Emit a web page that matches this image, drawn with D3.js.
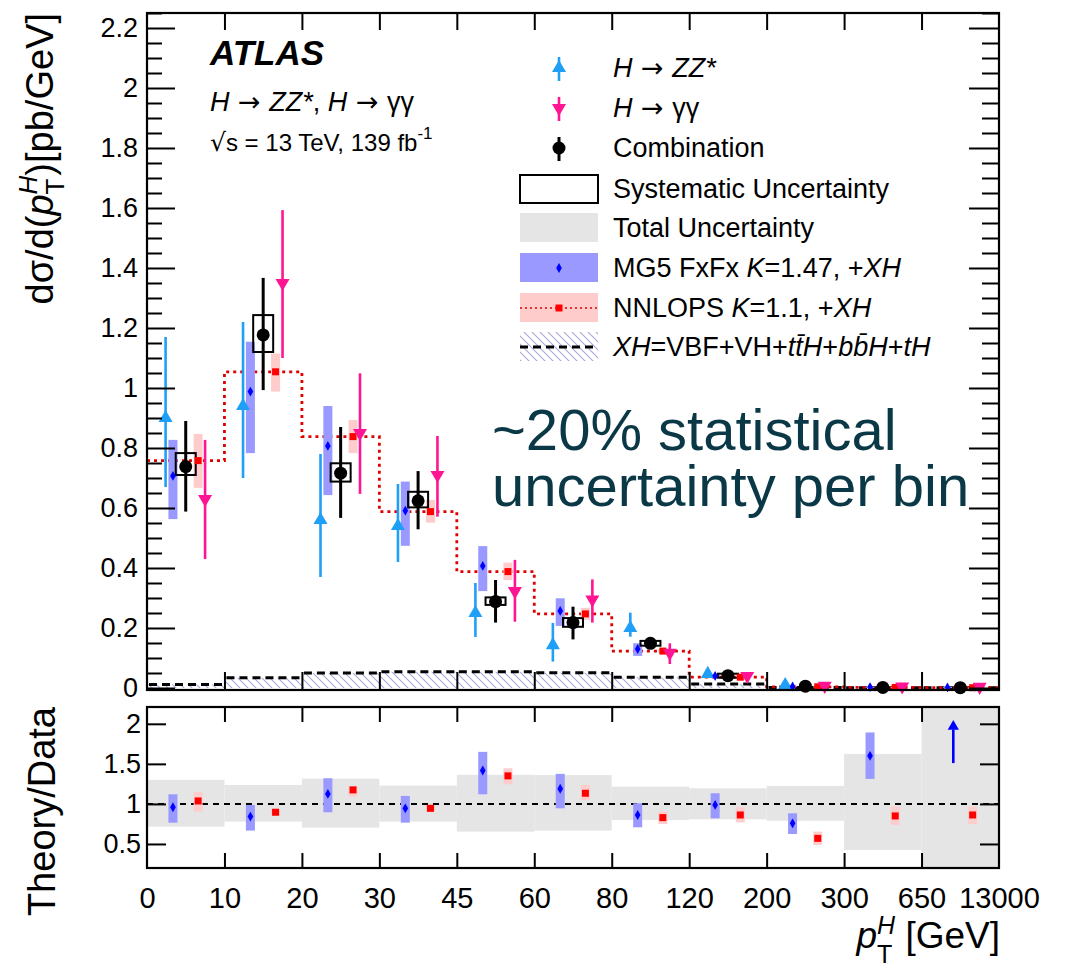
<!DOCTYPE html>
<html>
<head>
<meta charset="utf-8">
<script src="https://cdn.jsdelivr.net/npm/d3@7"></script>
<style>
  body { margin: 0; background: #fff; }
  text { font-family: "Liberation Sans", Arial, Helvetica, sans-serif; white-space: pre; }
</style>
</head>
<body>
<svg id="chart" width="1066" height="970"></svg>
<script>
// bin edges of pT(H) [GeV], 11 bins drawn with equal width
var binEdges = ["0", "10", "20", "30", "45", "60", "80", "120", "200", "300", "650", "13000"];

// H -> ZZ* (no point in the last two bins)
var zzVal = [0.90, 0.94, 0.56, 0.54, 0.25, 0.143, 0.200, 0.047, 0.010];
var zzLo  = [0.67, 0.70, 0.37, 0.42, 0.17, 0.088, 0.171, 0.040, 0.007];
var zzHi  = [1.17, 1.22, 0.78, 0.68, 0.35, 0.217, 0.251, 0.054, 0.013];

// H -> gamma gamma
var yyVal = [0.63, 1.35, 0.85, 0.71, 0.323, 0.295, 0.117, 0.040, 0.007, 0.005, 0.004];
var yyLo  = [0.43, 1.10, 0.647, 0.571, 0.221, 0.218, 0.080, 0.034, 0.004, 0.003, 0.002];
var yyHi  = [0.827, 1.593, 1.049, 0.84, 0.427, 0.362, 0.149, 0.047, 0.010, 0.007, 0.006];

// combination, total error + systematic box
var combVal = [0.738, 1.177, 0.716, 0.624, 0.288, 0.218, 0.149, 0.041, 0.006, 0.002, 0.001];
var combLo  = [0.588, 0.993, 0.567, 0.529, 0.218, 0.162, 0.131, 0.034, 0.004, 0.001, 0.0005];
var combHi  = [0.890, 1.367, 0.870, 0.723, 0.360, 0.271, 0.168, 0.048, 0.008, 0.003, 0.0015];
var systLo  = [0.710, 1.120, 0.688, 0.602, 0.277, 0.204, 0.141, 0.037, 0.005, 0.0015, 0.0008];
var systHi  = [0.783, 1.243, 0.749, 0.654, 0.302, 0.233, 0.157, 0.045, 0.007, 0.0025, 0.0012];

// MG5 FxFx prediction
var mgVal = [0.707, 0.988, 0.807, 0.591, 0.407, 0.257, 0.130, 0.040, 0.005, 0.003, 0.002];
var mgLo  = [0.563, 0.783, 0.643, 0.474, 0.323, 0.207, 0.107, 0.035, 0.004, 0.002, 0.001];
var mgHi  = [0.827, 1.154, 0.940, 0.688, 0.473, 0.299, 0.149, 0.046, 0.007, 0.004, 0.003];

// NNLOPS prediction
var nnVal = [0.758, 1.054, 0.838, 0.588, 0.388, 0.247, 0.123, 0.036, 0.004, 0.002, 0.001];
var nnLo  = [0.667, 0.988, 0.783, 0.551, 0.360, 0.227, 0.117, 0.033, 0.003, 0.0015, 0.0007];
var nnHi  = [0.847, 1.115, 0.893, 0.627, 0.418, 0.267, 0.130, 0.039, 0.005, 0.0025, 0.0013];

// XH = VBF+VH+ttH+bbH+tH
var xhVal = [0.012, 0.034, 0.050, 0.054, 0.054, 0.051, 0.036, 0.013, 0.002, 0.001, 0.0005];

// ratio panel
var ratioMg   = [0.958, 0.842, 1.125, 0.945, 1.417, 1.19, 0.862, 0.988, 0.758, 1.60];
var ratioMgLo = [0.766, 0.667, 0.896, 0.766, 1.12, 0.945, 0.708, 0.82, 0.625, 1.3125];
var ratioMgHi = [1.12, 0.987, 1.32, 1.10, 1.65, 1.375, 1.008, 1.133, 0.883, 1.892];
var ratioMgArrow = [1.51, 2.03]; // last bin is off scale
var ratioNn   = [1.037, 0.896, 1.175, 0.945, 1.35, 1.133, 0.829, 0.862, 0.57, 0.85, 0.862];
var ratioNnLo = [0.904, 0.854, 1.09, 0.896, 1.245, 1.05, 0.75, 0.77, 0.4875, 0.7375, 0.75];
var ratioNnHi = [1.15, 0.933, 1.225, 0.987, 1.445, 1.237, 0.904, 0.958, 0.654, 0.967, 0.967];
var totLo     = [0.716, 0.779, 0.704, 0.779, 0.654, 0.667, 0.80, 0.808, 0.79, 0.425, 0.0];
var totHi     = [1.30, 1.237, 1.316, 1.229, 1.363, 1.36, 1.216, 1.195, 1.225, 1.625, 2.5];

var yTicks = [0, 0.2, 0.4, 0.6, 0.8, 1, 1.2, 1.4, 1.6, 1.8, 2, 2.2];
var rTicks = [0.5, 1, 1.5, 2];

var colZZ = "#1f9ff5", colYY = "#ff1493", colMgBand = "#9999ff", colMg = "#0000ff";
var colNnBand = "#ffcccc", colNn = "#ff0000", colTot = "#e5e5e5";
var arrowFont = '"DejaVu Sans", sans-serif';

var left = 147, right = 999, topT = 13, botT = 690, topB = 707, botB = 868;

var svg = d3.select("#chart");

var x = d3.scaleLinear().domain([0, 11]).range([left, right]);
var y = d3.scaleLinear().domain([-0.0067, 2.25]).range([botT, topT]);
var yr = d3.scaleLinear().domain([0.2, 2.21]).range([botB, topB]);

// offsets inside a bin (in bin units)
var offZZ = -0.26, offMg = -0.165, offNn = 0.16, offYY = 0.25;
function bx(i, off) { return x(i + 0.5 + off); }

var defs = svg.append("defs");
var pat = defs.append("pattern").attr("id", "hatch").attr("patternUnits", "userSpaceOnUse")
    .attr("width", 8).attr("height", 8);
pat.append("path").attr("d", "M-2,-2 L10,10 M-2,6 L2,10 M6,-2 L10,2")
    .attr("stroke", "#a8a8d8").attr("stroke-width", 1.1);
defs.append("clipPath").attr("id", "clipB").append("rect")
    .attr("x", left).attr("y", topB).attr("width", right - left).attr("height", botB - topB);

// little helper to put strings with italic / sub / sup pieces one after the other
function richText(parent, px, py, segs, anchor, fill) {
    var g = parent.append("g");
    var cx = 0, prevStart = 0;
    segs.forEach(function (s) {
        var start = s.stack ? prevStart : cx;
        var t = g.append("text").attr("x", start).attr("y", s.dy || 0)
            .attr("fill", fill || "#000")
            .style("font-size", s.fs + "px")
            .style("font-style", s.it ? "italic" : "normal")
            .style("font-weight", s.bold ? "bold" : "normal")
            .text(s.t);
        if (s.font) t.style("font-family", s.font);
        var w = t.node().getComputedTextLength();
        if (s.stack) cx = Math.max(cx, start + w);
        else { prevStart = start; cx = start + w; }
    });
    var shift = anchor === "end" ? -cx : (anchor === "middle" ? -cx / 2 : 0);
    g.attr("transform", "translate(" + (px + shift) + "," + py + ")");
    return g;
}

// ---------- top panel ----------
var gTop = svg.append("g");

// XH hatched area + dashed top
xhVal.forEach(function (v, i) {
    gTop.append("rect").attr("x", x(i)).attr("width", x(i + 1) - x(i))
        .attr("y", y(v)).attr("height", y(0) - y(v)).attr("fill", "url(#hatch)");
    gTop.append("line").attr("x1", x(i) + 2).attr("x2", x(i + 1) - 2)
        .attr("y1", y(v)).attr("y2", y(v))
        .attr("stroke", "#000").attr("stroke-width", 3).attr("stroke-dasharray", "8,5");
});

// NNLOPS step histogram
var stepPts = nnVal.map(function (v, i) { return [i, v]; }).concat([[11, nnVal[nnVal.length - 1]]]);
var step = d3.line().x(function (d) { return x(d[0]); }).y(function (d) { return y(d[1]); })
    .curve(d3.curveStepAfter);
gTop.append("path").datum(stepPts).attr("d", step).attr("fill", "none")
    .attr("stroke", "#e00000").attr("stroke-width", 2.8).attr("stroke-dasharray", "3,4");

// prediction bands
mgVal.forEach(function (v, i) {
    gTop.append("rect").attr("x", bx(i, offMg) - 4.5).attr("width", 9)
        .attr("y", y(mgHi[i])).attr("height", Math.max(1, y(mgLo[i]) - y(mgHi[i]))).attr("fill", colMgBand);
});
nnVal.forEach(function (v, i) {
    gTop.append("rect").attr("x", bx(i, offNn) - 4.5).attr("width", 9)
        .attr("y", y(nnHi[i])).attr("height", Math.max(1, y(nnLo[i]) - y(nnHi[i]))).attr("fill", colNnBand);
});

// error bars
function vbar(g, px, lo, hi, col, w) {
    g.append("line").attr("x1", px).attr("x2", px).attr("y1", y(lo)).attr("y2", y(hi))
        .attr("stroke", col).attr("stroke-width", w);
}
zzVal.forEach(function (v, i) { vbar(gTop, bx(i, offZZ), zzLo[i], zzHi[i], colZZ, 2.6); });
yyVal.forEach(function (v, i) { vbar(gTop, bx(i, offYY), yyLo[i], yyHi[i], colYY, 2.6); });

// systematic boxes
combVal.forEach(function (v, i) {
    if (i > 7) return;
    var h = Math.max(4, y(systLo[i]) - y(systHi[i]));
    var yc = (y(systLo[i]) + y(systHi[i])) / 2;
    gTop.append("rect").attr("x", bx(i, 0) - 10).attr("width", 20)
        .attr("y", yc - h / 2).attr("height", h)
        .attr("fill", "none").attr("stroke", "#000").attr("stroke-width", 2);
});
combVal.forEach(function (v, i) { vbar(gTop, bx(i, 0), combLo[i], combHi[i], "#000", 3); });

// markers
var triUp = d3.symbol().type(d3.symbolTriangle).size(85);
var diamond = d3.symbol().type(d3.symbolDiamond).size(28);
zzVal.forEach(function (v, i) {
    gTop.append("path").attr("d", triUp()).attr("fill", colZZ)
        .attr("transform", "translate(" + bx(i, offZZ) + "," + y(v) + ")");
});
mgVal.forEach(function (v, i) {
    gTop.append("path").attr("d", diamond()).attr("fill", colMg)
        .attr("transform", "translate(" + bx(i, offMg) + "," + y(v) + ")");
});
nnVal.forEach(function (v, i) {
    gTop.append("rect").attr("x", bx(i, offNn) - 3.5).attr("y", y(v) - 3.5)
        .attr("width", 7).attr("height", 7).attr("fill", colNn);
});
yyVal.forEach(function (v, i) {
    gTop.append("path").attr("d", triUp()).attr("fill", colYY)
        .attr("transform", "translate(" + bx(i, offYY) + "," + y(v) + ") rotate(180)");
});
combVal.forEach(function (v, i) {
    gTop.append("circle").attr("cx", bx(i, 0)).attr("cy", y(v)).attr("r", 6.5).attr("fill", "#000");
});

// top panel axes
var minorY = d3.range(0, 2.26, 0.05).filter(function (d) { return Math.abs(d * 5 - Math.round(d * 5)) > 0.01; });
function styleAxis(g) {
    g.select(".domain").remove();
    g.selectAll(".tick line").attr("stroke", "#000").attr("stroke-width", 2);
    g.selectAll("text").attr("fill", "#000").style("font-size", "27px")
        .style("font-family", '"Liberation Sans", Arial, sans-serif');
}
svg.append("g").attr("transform", "translate(" + left + ",0)")
    .call(d3.axisLeft(y).tickValues(yTicks).tickSize(-28).tickPadding(9).tickFormat(d3.format("~g")))
    .call(styleAxis);
svg.append("g").attr("transform", "translate(" + left + ",0)")
    .call(d3.axisLeft(y).tickValues(minorY).tickSize(-15).tickFormat(""))
    .call(styleAxis);
svg.append("g").attr("transform", "translate(" + right + ",0)")
    .call(d3.axisRight(y).tickValues(yTicks).tickSize(-30).tickFormat(""))
    .call(styleAxis);
svg.append("g").attr("transform", "translate(" + right + ",0)")
    .call(d3.axisRight(y).tickValues(minorY).tickSize(-17).tickFormat(""))
    .call(styleAxis);
var edgeIdx = d3.range(1, 11);
svg.append("g").attr("transform", "translate(0," + botT + ")")
    .call(d3.axisBottom(x).tickValues(edgeIdx).tickSize(-18).tickFormat(""))
    .call(styleAxis);
svg.append("g").attr("transform", "translate(0," + topT + ")")
    .call(d3.axisTop(x).tickValues(edgeIdx).tickSize(-17).tickFormat(""))
    .call(styleAxis);
svg.append("rect").attr("x", left).attr("y", topT).attr("width", right - left).attr("height", botT - topT)
    .attr("fill", "none").attr("stroke", "#000").attr("stroke-width", 2.2);

// ---------- ratio panel ----------
var gBot = svg.append("g").attr("clip-path", "url(#clipB)");
totLo.forEach(function (v, i) {
    gBot.append("rect").attr("x", x(i)).attr("width", x(i + 1) - x(i))
        .attr("y", yr(totHi[i])).attr("height", yr(totLo[i]) - yr(totHi[i])).attr("fill", colTot);
});
gBot.append("line").attr("x1", left).attr("x2", right).attr("y1", yr(1)).attr("y2", yr(1))
    .attr("stroke", "#000").attr("stroke-width", 2).attr("stroke-dasharray", "6,5");
ratioMg.forEach(function (v, i) {
    gBot.append("rect").attr("x", bx(i, offMg) - 4.5).attr("width", 9)
        .attr("y", yr(ratioMgHi[i])).attr("height", yr(ratioMgLo[i]) - yr(ratioMgHi[i])).attr("fill", colMgBand);
    gBot.append("path").attr("d", diamond()).attr("fill", colMg)
        .attr("transform", "translate(" + bx(i, offMg) + "," + yr(v) + ")");
});
ratioNn.forEach(function (v, i) {
    gBot.append("rect").attr("x", bx(i, offNn) - 4.5).attr("width", 9)
        .attr("y", yr(ratioNnHi[i])).attr("height", yr(ratioNnLo[i]) - yr(ratioNnHi[i])).attr("fill", colNnBand);
    gBot.append("rect").attr("x", bx(i, offNn) - 3.5).attr("y", yr(v) - 3.5)
        .attr("width", 7).attr("height", 7).attr("fill", colNn);
});
// off-scale arrow in last bin
var ax = bx(10, -0.09);
gBot.append("line").attr("x1", ax).attr("x2", ax)
    .attr("y1", yr(ratioMgArrow[0])).attr("y2", yr(ratioMgArrow[1]) + 8)
    .attr("stroke", colMg).attr("stroke-width", 2.6);
gBot.append("path").attr("d", d3.symbol().type(d3.symbolTriangle).size(55)())
    .attr("fill", colMg).attr("transform", "translate(" + ax + "," + (yr(ratioMgArrow[1]) + 5) + ")");

svg.append("g").attr("transform", "translate(" + left + ",0)")
    .call(d3.axisLeft(yr).tickValues(rTicks).tickSize(-19).tickPadding(6).tickFormat(d3.format("~g")))
    .call(styleAxis);
svg.append("g").attr("transform", "translate(" + right + ",0)")
    .call(d3.axisRight(yr).tickValues(rTicks).tickSize(-19).tickFormat(""))
    .call(styleAxis);
svg.append("g").attr("transform", "translate(0," + topB + ")")
    .call(d3.axisTop(x).tickValues(edgeIdx).tickSize(-15).tickFormat(""))
    .call(styleAxis);
var xAx = svg.append("g").attr("transform", "translate(0," + botB + ")")
    .call(d3.axisBottom(x).tickValues(d3.range(0, 12)).tickSize(-15).tickPadding(19)
        .tickFormat(function (d) { return binEdges[d]; }))
    .call(styleAxis);
xAx.selectAll("text").style("font-size", "29px");
xAx.selectAll(".tick").filter(function (d) { return d === 0 || d === 11; }).select("line").remove();
svg.append("rect").attr("x", left).attr("y", topB).attr("width", right - left).attr("height", botB - topB)
    .attr("fill", "none").attr("stroke", "#000").attr("stroke-width", 2.2);

// ---------- axis titles ----------
var yt = svg.append("g").attr("transform", "translate(53,13) rotate(-90)");
richText(yt, 0, 0, [
    { t: "d\u03c3/d(", fs: 38 },
    { t: "p", fs: 38, it: true },
    { t: "H", fs: 26, it: true, dy: -16 },
    { t: "T", fs: 26, dy: 11, stack: true },
    { t: ")[pb/GeV]", fs: 38 }
], "end");
var rt = svg.append("g").attr("transform", "translate(55,707) rotate(-90)");
richText(rt, 0, 0, [{ t: "Theory/Data", fs: 38 }], "end");
richText(svg, 1000, 948, [
    { t: "p", fs: 37, it: true },
    { t: "H", fs: 25, it: true, dy: -14 },
    { t: "T", fs: 25, dy: 15, stack: true },
    { t: " [GeV]", fs: 37 }
], "end");

// ---------- ATLAS label ----------
richText(svg, 210, 65, [{ t: "ATLAS", fs: 35, it: true, bold: true }], "start");
richText(svg, 210, 111, [
    { t: "H", fs: 27, it: true }, { t: " \u2192 ", fs: 27, font: arrowFont }, { t: "ZZ*", fs: 27, it: true },
    { t: ", ", fs: 27 }, { t: "H", fs: 27, it: true }, { t: " \u2192 ", fs: 27, font: arrowFont },
    { t: "\u03b3\u03b3", fs: 27 }
], "start");
richText(svg, 210, 151, [
    { t: "\u221a", fs: 25, font: arrowFont }, { t: "s = 13 TeV, 139 fb", fs: 24 }, { t: "-1", fs: 17, dy: -12 }
], "start");

// ---------- legend ----------
var legX = 559, legText = 613;
var legRows = [68, 108, 148, 189, 228, 268, 308, 347];
var legLabels = [
    [{ t: "H", it: true }, { t: " \u2192 ", font: arrowFont }, { t: "ZZ*", it: true }],
    [{ t: "H", it: true }, { t: " \u2192 ", font: arrowFont }, { t: "\u03b3\u03b3" }],
    [{ t: "Combination" }],
    [{ t: "Systematic Uncertainty" }],
    [{ t: "Total Uncertainty" }],
    [{ t: "MG5 FxFx " }, { t: "K", it: true }, { t: "=1.47, +" }, { t: "XH", it: true }],
    [{ t: "NNLOPS " }, { t: "K", it: true }, { t: "=1.1, +" }, { t: "XH", it: true }],
    [{ t: "XH", it: true }, { t: "=VBF+VH+" }, { t: "tt\u0304H", it: true },
     { t: "+" }, { t: "bb\u0304H", it: true }, { t: "+" }, { t: "tH", it: true }]
];
legLabels.forEach(function (segs, k) {
    richText(svg, legText, legRows[k] + 9, segs.map(function (s) {
        return { t: s.t, it: s.it, font: s.font, fs: 27 };
    }), "start");
});
var lg = svg.append("g");
// ZZ
lg.append("line").attr("x1", legX).attr("x2", legX).attr("y1", legRows[0] - 11).attr("y2", legRows[0] + 13)
    .attr("stroke", colZZ).attr("stroke-width", 2.6);
lg.append("path").attr("d", triUp()).attr("fill", colZZ).attr("transform", "translate(" + legX + "," + legRows[0] + ")");
// gamma gamma
lg.append("line").attr("x1", legX).attr("x2", legX).attr("y1", legRows[1] - 11).attr("y2", legRows[1] + 13)
    .attr("stroke", colYY).attr("stroke-width", 2.6);
lg.append("path").attr("d", triUp()).attr("fill", colYY)
    .attr("transform", "translate(" + legX + "," + legRows[1] + ") rotate(180)");
// combination
lg.append("line").attr("x1", legX).attr("x2", legX).attr("y1", legRows[2] - 11).attr("y2", legRows[2] + 13)
    .attr("stroke", "#000").attr("stroke-width", 3);
lg.append("circle").attr("cx", legX).attr("cy", legRows[2]).attr("r", 6.5).attr("fill", "#000");
// boxes
var bxL = 520, bxW = 78, bxH = 29;
lg.append("rect").attr("x", bxL).attr("y", legRows[3] - 14).attr("width", bxW).attr("height", 28)
    .attr("fill", "none").attr("stroke", "#000").attr("stroke-width", 2);
lg.append("rect").attr("x", bxL).attr("y", legRows[4] - 15).attr("width", bxW).attr("height", bxH).attr("fill", colTot);
lg.append("rect").attr("x", bxL).attr("y", legRows[5] - 15).attr("width", bxW).attr("height", bxH).attr("fill", colMgBand);
lg.append("path").attr("d", diamond()).attr("fill", colMg).attr("transform", "translate(" + legX + "," + legRows[5] + ")");
lg.append("rect").attr("x", bxL).attr("y", legRows[6] - 15).attr("width", bxW).attr("height", bxH).attr("fill", colNnBand);
lg.append("line").attr("x1", bxL).attr("x2", bxL + bxW).attr("y1", legRows[6]).attr("y2", legRows[6])
    .attr("stroke", "#e00000").attr("stroke-width", 1.5).attr("stroke-dasharray", "2,3");
lg.append("rect").attr("x", legX - 3.5).attr("y", legRows[6] - 3.5).attr("width", 7).attr("height", 7).attr("fill", colNn);
lg.append("rect").attr("x", bxL).attr("y", legRows[7] - 15).attr("width", bxW).attr("height", bxH).attr("fill", "url(#hatch)");
lg.append("line").attr("x1", bxL).attr("x2", bxL + bxW).attr("y1", legRows[7]).attr("y2", legRows[7])
    .attr("stroke", "#000").attr("stroke-width", 3).attr("stroke-dasharray", "8,5");

// ---------- annotation ----------
var noteLines = ["~20% statistical", "uncertainty per bin"];
var note = svg.append("text").attr("x", 492).attr("y", 450).attr("fill", "#0b3846").style("font-size", "58px");
noteLines.forEach(function (s, k) {
    note.append("tspan").attr("x", 492).attr("dy", k === 0 ? 0 : 56).text(s);
});
</script>
</body>
</html>
